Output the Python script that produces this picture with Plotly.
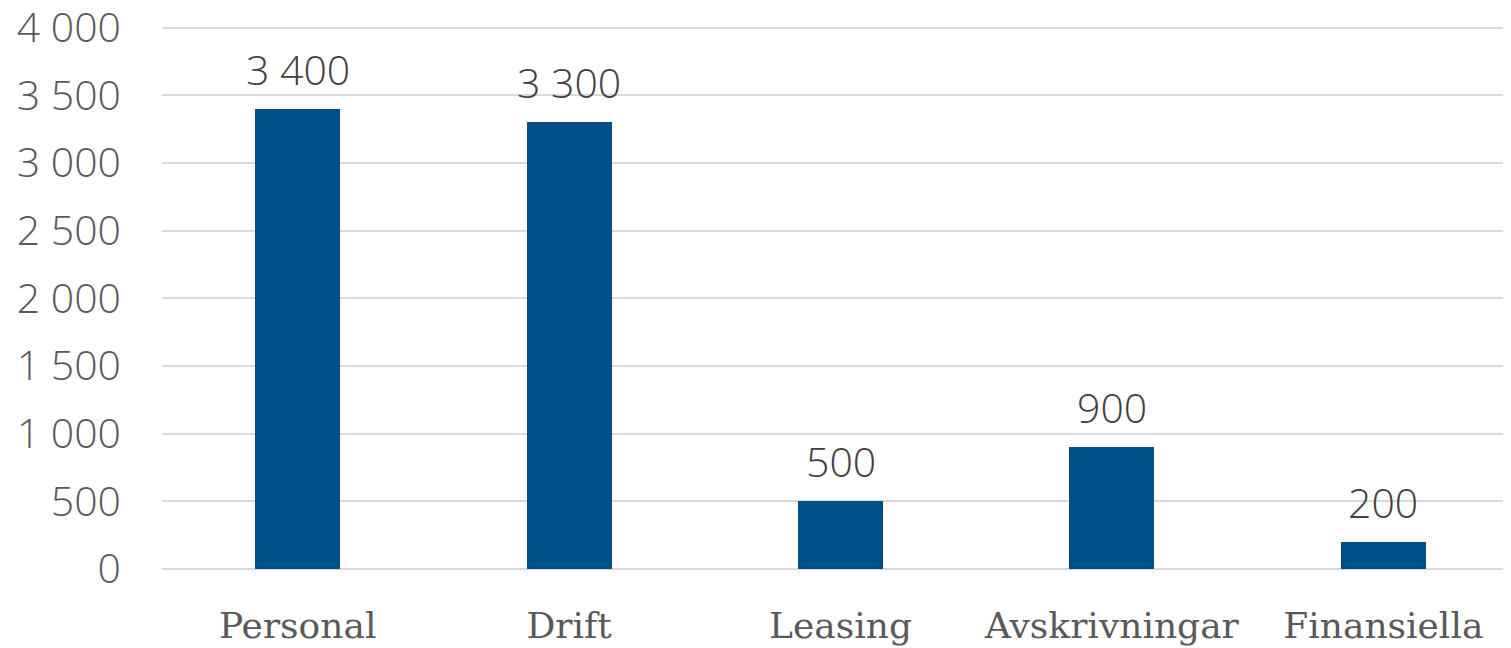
import plotly.graph_objects as go

categories = ["Personal", "Drift", "Leasing", "Avskrivningar", "Finansiella"]
values = [3400, 3300, 500, 900, 200]
y_ticks = [0, 500, 1000, 1500, 2000, 2500, 3000, 3500, 4000]

fig = go.Figure(go.Bar(
    x=categories, y=values,
    marker=dict(color="#004F87", line=dict(width=0)),
    width=0.313,
))

for c, v in zip(categories, values):
    fig.add_annotation(
        x=c, y=v, text=f"{v:,}".replace(",", " "),
        showarrow=False, yanchor="bottom", yshift=10,
        font=dict(family="Open Sans", size=41, color="#404040", weight=300),
    )

fig.update_layout(
    width=1511, height=648,
    margin=dict(l=154, r=0, t=17, b=87),
    plot_bgcolor="white", paper_bgcolor="white",
    separators=", ",
    showlegend=False,
    bargap=0,
)
fig.update_xaxes(
    range=[-0.5, 4.5], automargin=False,
    showgrid=False, showline=False, zeroline=False,
    ticks="", ticklabelstandoff=32,
    tickfont=dict(family="DejaVu Serif", size=36, color="#595959", weight=300),
)
fig.update_yaxes(
    range=[0, 4020], tickvals=y_ticks, tickformat=",d", automargin=False,
    showgrid=True, gridcolor="#D9D9D9", gridwidth=1.5,
    zeroline=True, zerolinecolor="#D9D9D9", zerolinewidth=1.5,
    showline=False, ticks="", ticklabelstandoff=40,
    ticklabeloverflow="allow",
    tickfont=dict(family="Open Sans", size=41, color="#595959", weight=300),
)

fig.write_html("out.html")
